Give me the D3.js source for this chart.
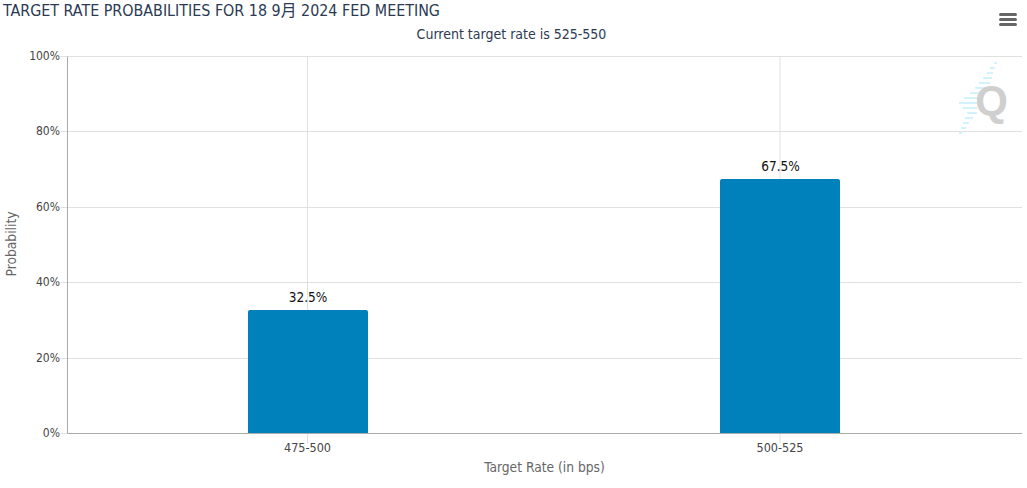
<!DOCTYPE html>
<html><head><meta charset="utf-8">
<script src="https://cdn.jsdelivr.net/npm/d3@7/dist/d3.min.js"></script>
<style>html,body{margin:0;padding:0;background:#fff}svg{display:block}text{font-family:"DejaVu Sans Condensed","DejaVu Sans","Noto Sans CJK JP",sans-serif;font-stretch:condensed}</style>
</head><body><div id="c"></div>
<script>
const categories=["475-500","500-525"];
const probabilities=[32.5,67.5];
const yTicks=[0,20,40,60,80,100];
const titleText="TARGET RATE PROBABILITIES FOR 18 9月 2024 FED MEETING";
const subtitleText="Current target rate is 525-550";
const xTitle="Target Rate (in bps)";
const yTitle="Probability";

const W=1027,H=488;
const svg=d3.select("#c").append("svg").attr("width",W).attr("height",H);
const plot={l:67.5,r:1022,t:56.5,b:433.5};
const x=d3.scaleBand().domain(categories).range([71.25,1016.25]);
const y=d3.scaleLinear().domain([0,100]).range([plot.b,plot.t]);
const crisp=v=>Math.floor(v)+0.5;
const barW=120;

svg.append("g").selectAll("line").data(yTicks.filter(d=>d>0)).join("line")
 .attr("x1",plot.l).attr("x2",plot.r).attr("y1",d=>crisp(y(d))).attr("y2",d=>crisp(y(d))).attr("stroke","#e0e0e0");
svg.append("g").selectAll("line").data(categories).join("line")
 .attr("x1",d=>x(d)+x.bandwidth()/2).attr("x2",d=>x(d)+x.bandwidth()/2)
 .attr("y1",plot.t).attr("y2",plot.b+10).attr("stroke","#e0e0e0");
svg.append("g").selectAll("line").data(yTicks).join("line")
 .attr("x1",plot.l-7).attr("x2",plot.l).attr("y1",d=>crisp(y(d))).attr("y2",d=>crisp(y(d))).attr("stroke","#e0e0e0");

// watermark
const wm=svg.append("g");
const wmLines=[[63,994,997],[68,990,995],[73,987,993],[78,983,992],[83,979,990],[88,975,986],[93,970,982],[98,964,980],[103,959,977],[108,963,977],[113,967,977],[118,965,973],[123,963,969],[128,961,966],[133,959,962]];
wm.selectAll("line").data(wmLines).join("line")
 .attr("x1",d=>d[1]).attr("x2",d=>d[2]).attr("y1",d=>d[0]).attr("y2",d=>d[0])
 .attr("stroke","#d2f3fb").attr("stroke-width",2);
wm.append("text").attr("x",991.5).attr("y",115).attr("text-anchor","middle")
 .attr("font-size",42).attr("font-weight","bold").attr("fill","#cfcfcf")
 .style("font-family","'Liberation Sans',sans-serif").style("font-stretch","normal").text("Q");

svg.append("g").selectAll("path").data(categories).join("path")
 .attr("fill","#0081bb")
 .attr("d",(d,i)=>{
  const c=x(d)+x.bandwidth()/2,a=Math.round(c-barW/2),b=a+barW,t=Math.floor(y(probabilities[i])),r=2;
  return `M${a},${plot.b}V${t+r}Q${a},${t} ${a+r},${t}H${b-r}Q${b},${t} ${b},${t+r}V${plot.b}Z`;
 });

svg.append("line").attr("x1",plot.l).attr("x2",plot.l).attr("y1",plot.t).attr("y2",plot.b).attr("stroke","#aaa");
svg.append("line").attr("x1",plot.l).attr("x2",plot.r).attr("y1",plot.b).attr("y2",plot.b).attr("stroke","#aaa");

svg.append("g").selectAll("text").data(yTicks).join("text")
 .attr("x",60).attr("y",d=>crisp(y(d))+3.5).attr("text-anchor","end").attr("font-size",12).attr("fill","#444")
 .text(d=>d+"%");
svg.append("g").selectAll("text").data(categories).join("text")
 .attr("x",d=>x(d)+x.bandwidth()/2).attr("y",452).attr("text-anchor","middle").attr("font-size",12.5).attr("fill","#444").text(d=>d);
svg.append("g").selectAll("text").data(categories).join("text")
 .attr("x",d=>x(d)+x.bandwidth()/2+0.5).attr("y",(d,i)=>y(probabilities[i])-8.5).attr("text-anchor","middle").attr("font-size",13.5).attr("fill","#111")
 .text((d,i)=>probabilities[i].toFixed(1)+"%");

svg.append("text").attr("x",3).attr("y",16).attr("font-size",15.9).attr("fill","#2b3a52").text(titleText);
svg.append("text").attr("x",511.5).attr("y",39).attr("text-anchor","middle").attr("font-size",14).attr("fill","#2b3a52").text(subtitleText);
svg.append("text").attr("x",544.5).attr("y",472).attr("text-anchor","middle").attr("font-size",13.7).attr("fill","#666").text(xTitle);
svg.append("text").attr("transform","translate(16,244) rotate(-90)").attr("text-anchor","middle").attr("font-size",13.7).attr("fill","#666").text(yTitle);

// menu icon
svg.append("g").selectAll("line").data([14.5,19.5,24.5]).join("line")
 .attr("x1",1000.5).attr("x2",1015.5).attr("y1",d=>d).attr("y2",d=>d)
 .attr("stroke","#666").attr("stroke-width",3).attr("stroke-linecap","round");
</script></body></html>
